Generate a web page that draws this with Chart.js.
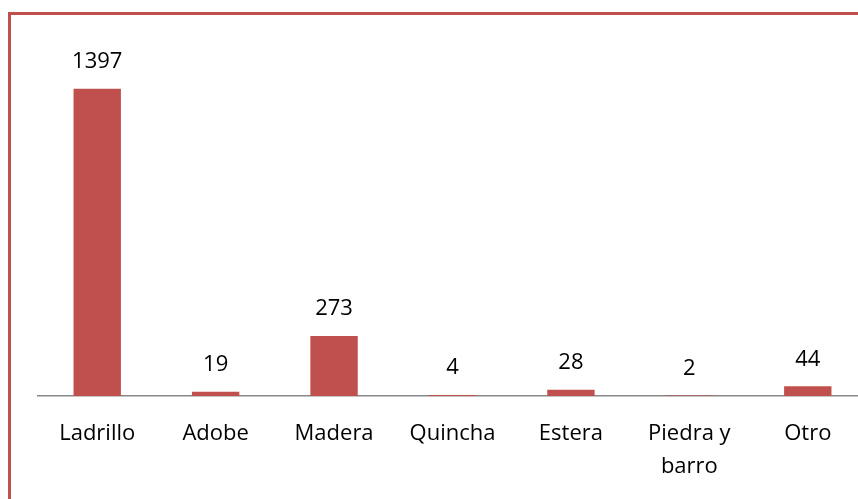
<!DOCTYPE html>
<html lang="es">
<head>
    <meta charset="UTF-8">
    <title>Material de construcción</title>
    <script src="https://cdn.jsdelivr.net/npm/chart.js"></script>
    <style>
        body { margin: 0; overflow: hidden; background: #fff; }
        #frame {
            position: absolute; left: 8px; top: 12px; width: 900px; height: 600px;
            border-left: 3px solid #C0504D; border-top: 3px solid #C0504D;
        }
        #materialChart { position: absolute; left: 0; top: 0; }
    </style>
</head>
<body>
    <div id="frame"></div>
    <canvas id="materialChart" width="870" height="499"></canvas>
    <script>
        // Datos
        const categorias = ['Ladrillo', 'Adobe', 'Madera', 'Quincha', 'Estera', ['Piedra y', 'barro'], 'Otro'];
        const viviendas = [1397, 19, 273, 4, 28, 2, 44];

        const fuente = "'Open Sans', 'Liberation Sans', sans-serif";

        // etiquetas de valor encima de cada barra
        const valorLabels = {
            id: 'valorLabels',
            afterDatasetsDraw(chart) {
                const ctx = chart.ctx;
                const meta = chart.getDatasetMeta(0);
                ctx.save();
                ctx.font = '22px ' + fuente;
                ctx.fillStyle = '#000';
                ctx.textAlign = 'center';
                ctx.textBaseline = 'middle';
                meta.data.forEach((bar, i) => {
                    ctx.fillText(String(viviendas[i]), bar.x, bar.y - 27);
                });
                ctx.restore();
            }
        };

        const ctx = document.getElementById('materialChart').getContext('2d');
        new Chart(ctx, {
            type: 'bar',
            data: {
                labels: categorias,
                datasets: [{
                    data: viviendas,
                    backgroundColor: '#C0504D',
                    categoryPercentage: 1,
                    barPercentage: 0.4
                }]
            },
            options: {
                responsive: false,
                animation: false,
                layout: { padding: { left: 38, right: 3, top: 44, bottom: 0 } },
                plugins: { legend: { display: false }, tooltip: { enabled: false } },
                scales: {
                    x: {
                        grid: { display: false },
                        border: { color: '#888888', width: 1.5 },
                        ticks: {
                            color: '#000',
                            font: { family: fuente, size: 22, lineHeight: 1.5 },
                            padding: 13,
                            maxRotation: 0,
                            autoSkip: false
                        },
                        afterFit(scale) { scale.height = 103; }
                    },
                    y: {
                        display: false,
                        min: 0,
                        max: 1600
                    }
                }
            },
            plugins: [valorLabels]
        });
    </script>
</body>
</html>
